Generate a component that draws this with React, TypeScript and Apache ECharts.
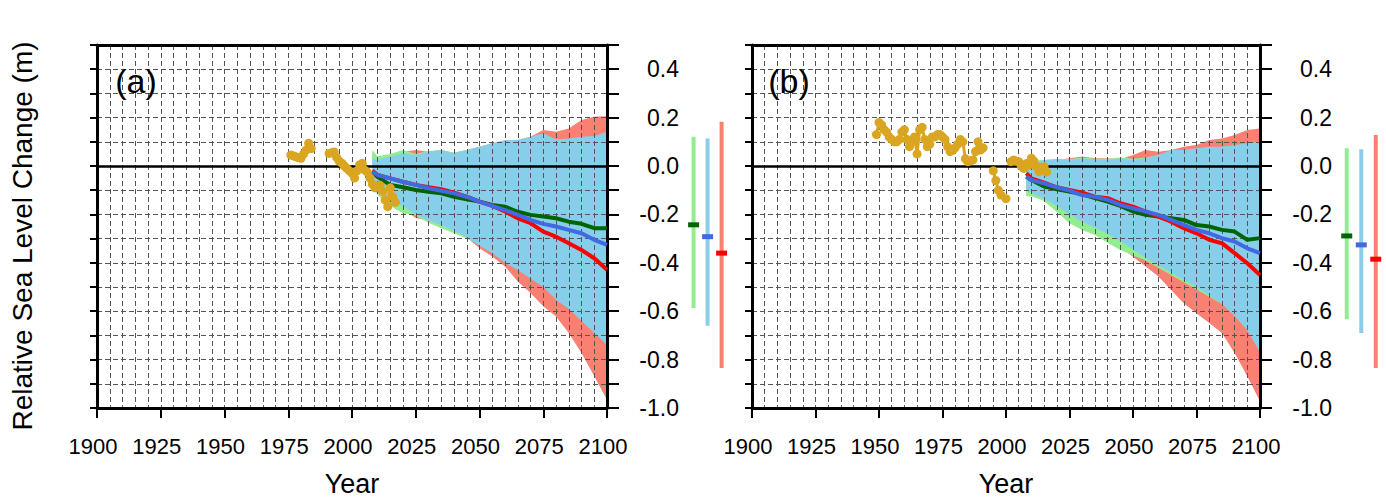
import React, { useEffect, useRef } from "react";
import * as echarts from "echarts";

// ---------- data ----------
const projYears = [2008, 2010, 2015, 2020, 2025, 2030, 2035, 2040, 2045, 2050, 2055, 2060, 2065, 2070, 2075, 2080, 2085, 2090, 2095, 2100];

// panel (a)
const greenLineA = [-0.023, -0.045, -0.078, -0.088, -0.099, -0.106, -0.113, -0.127, -0.138, -0.147, -0.161, -0.168, -0.189, -0.202, -0.209, -0.216, -0.23, -0.239, -0.257, -0.257];
const blueLineA = [-0.023, -0.037, -0.051, -0.065, -0.078, -0.092, -0.102, -0.113, -0.127, -0.147, -0.165, -0.182, -0.202, -0.223, -0.239, -0.25, -0.264, -0.278, -0.305, -0.326];
const redLineA = [-0.019, -0.037, -0.051, -0.065, -0.078, -0.088, -0.096, -0.11, -0.127, -0.147, -0.165, -0.188, -0.216, -0.236, -0.271, -0.292, -0.319, -0.347, -0.381, -0.429];
const salmonHiA = [0.052, 0.032, 0.039, 0.059, 0.066, 0.059, 0.066, 0.055, 0.066, 0.08, 0.094, 0.1, 0.107, 0.121, 0.149, 0.142, 0.155, 0.19, 0.204, 0.206];
const salmonLoA = [-0.07, -0.11, -0.15, -0.18, -0.215, -0.225, -0.245, -0.268, -0.295, -0.34, -0.374, -0.415, -0.477, -0.525, -0.58, -0.622, -0.69, -0.773, -0.869, -0.966];
const greenHiA = [0.066, 0.04, 0.05, 0.066, 0.05, 0.062, 0.066, 0.055, 0.066, 0.078, 0.09, 0.1, 0.1, 0.11, 0.12, 0.11, 0.11, 0.115, 0.12, 0.13];
const greenLoA = [-0.08, -0.12, -0.165, -0.195, -0.205, -0.235, -0.257, -0.278, -0.3, -0.325, -0.35, -0.38, -0.41, -0.44, -0.47, -0.5, -0.53, -0.56, -0.58, -0.6];
const blueHiA = [0.032, 0.025, 0.039, 0.052, 0.045, 0.059, 0.066, 0.052, 0.066, 0.08, 0.094, 0.107, 0.107, 0.121, 0.135, 0.11, 0.114, 0.121, 0.124, 0.142];
const blueLoA = [-0.065, -0.1, -0.14, -0.165, -0.2, -0.225, -0.245, -0.268, -0.295, -0.33, -0.36, -0.4, -0.43, -0.465, -0.5, -0.553, -0.59, -0.64, -0.69, -0.74];

// panel (b)
const greenLineB = [-0.044, -0.058, -0.085, -0.096, -0.106, -0.117, -0.133, -0.147, -0.165, -0.188, -0.202, -0.209, -0.216, -0.223, -0.244, -0.25, -0.264, -0.271, -0.305, -0.298];
const blueLineB = [-0.044, -0.058, -0.072, -0.088, -0.102, -0.12, -0.127, -0.14, -0.161, -0.175, -0.188, -0.202, -0.223, -0.243, -0.264, -0.278, -0.298, -0.312, -0.34, -0.36];
const redLineB = [-0.03, -0.051, -0.069, -0.088, -0.099, -0.11, -0.127, -0.133, -0.154, -0.168, -0.188, -0.209, -0.23, -0.257, -0.278, -0.305, -0.319, -0.36, -0.402, -0.45];
const salmonHiB = [0.018, 0.025, 0.018, 0.025, 0.032, 0.039, 0.032, 0.032, 0.028, 0.045, 0.066, 0.059, 0.066, 0.08, 0.087, 0.107, 0.114, 0.128, 0.149, 0.155];
const salmonLoB = [-0.11, -0.115, -0.13, -0.175, -0.22, -0.25, -0.275, -0.305, -0.335, -0.375, -0.415, -0.457, -0.512, -0.567, -0.608, -0.649, -0.69, -0.773, -0.869, -0.972];
const greenHiB = [0.015, 0.02, 0.025, 0.03, 0.028, 0.035, 0.03, 0.03, 0.035, 0.03, 0.035, 0.045, 0.06, 0.065, 0.07, 0.075, 0.078, 0.085, 0.09, 0.095];
const greenLoB = [-0.125, -0.125, -0.145, -0.19, -0.237, -0.264, -0.285, -0.317, -0.347, -0.37, -0.39, -0.42, -0.45, -0.48, -0.51, -0.54, -0.57, -0.6, -0.62, -0.64];
const blueHiB = [0.011, 0.018, 0.025, 0.028, 0.025, 0.032, 0.028, 0.025, 0.032, 0.025, 0.032, 0.045, 0.066, 0.066, 0.073, 0.08, 0.08, 0.087, 0.094, 0.1];
const blueLoB = [-0.1, -0.11, -0.135, -0.165, -0.2, -0.23, -0.255, -0.28, -0.31, -0.345, -0.38, -0.41, -0.44, -0.47, -0.5, -0.535, -0.57, -0.62, -0.68, -0.77];

// observations
const obsYearsA = [1976, 1977, 1978, 1979, 1980, 1981, 1982, 1983, 1984, 1985, 1986, 1987, 1988, 1989, 1990, 1991, 1992, 1993, 1994, 1995, 1996, 1997, 1998, 1999, 2000, 2001, 2002, 2003, 2004, 2005, 2006, 2007, 2008, 2009, 2010, 2011, 2012, 2013, 2014, 2015, 2016, 2017];
const obsValsA = [0.045, 0.042, 0.038, 0.035, 0.032, 0.05, 0.066, 0.094, 0.072, null, null, null, null, null, null, 0.052, 0.055, 0.058, 0.035, 0.02, 0.012, 0.0, -0.01, -0.02, -0.03, -0.05, -0.02, 0.005, 0.011, -0.017, -0.025, -0.05, -0.075, -0.09, -0.085, -0.08, -0.105, -0.14, -0.168, -0.09, -0.127, -0.15];
const obsYearsB = [1949, 1950, 1951, 1952, 1953, 1954, 1955, 1956, 1957, 1958, 1959, 1960, 1961, 1962, 1963, 1964, 1965, 1966, 1967, 1968, 1969, 1970, 1971, 1972, 1973, 1974, 1975, 1976, 1977, 1978, 1979, 1980, 1981, 1982, 1983, 1984, 1985, 1986, 1987, 1988, 1989, 1990, 1991, 1992, 1993, 1994, 1995, 1996, 1997, 1998, 1999, 2000, 2001, 2002, 2003, 2004, 2005, 2006, 2007, 2008, 2009, 2010, 2011, 2012, 2013, 2014, 2015, 2016];
const obsValsB = [0.13, 0.18, 0.17, 0.15, 0.14, 0.12, 0.11, 0.1, 0.1, 0.11, 0.14, 0.15, 0.11, 0.08, 0.1, 0.12, 0.05, 0.15, 0.16, 0.11, 0.08, 0.09, 0.12, 0.12, 0.13, 0.13, 0.12, 0.11, 0.08, 0.06, 0.065, 0.075, 0.09, 0.11, 0.1, 0.03, 0.018, 0.022, 0.025, 0.06, 0.1, 0.066, 0.075, null, null, null, -0.02, -0.06, -0.1, -0.12, null, -0.135, null, 0.018, 0.025, 0.02, 0.018, 0.0, -0.01, 0.01, 0.004, 0.032, 0.02, -0.003, -0.023, -0.005, -0.003, -0.025];

// 2100 range bars: green, blue, red
const barCats = ["g", "b", "r"];
const barLowA = [-0.587, -0.66, -0.835];
const barHighA = [0.121, 0.114, 0.183];
const barMidA = [-0.243, -0.292, -0.36];
const barLowB = [-0.633, -0.69, -0.835];
const barHighB = [0.073, 0.069, 0.128];
const barMidB = [-0.289, -0.326, -0.385];

const xTicksMin = 1900;
const xTicksMax = 2100;
const yMin = -1.0;
const yMax = 0.5;

// ---------- style ----------
const FONT = "'Liberation Sans', Arial, Helvetica, sans-serif";
const NARROW = "'Liberation Sans Narrow', 'Liberation Sans', Arial, sans-serif";
const C_SALMON = "#FA8072";
const C_LGREEN = "#90EE90";
const C_SKY = "#87CEEB";
const C_DGREEN = "#006400";
const C_BLUE = "#4169E1";
const C_RED = "#FF0000";
const C_OBS = "#DAA520";
const GRIDLINE = { color: "#555", width: 1, type: [5, 3] as any };

function band(xi: number, yi: number, lo: number[], hi: number[], color: string) {
  return {
    type: "custom",
    xAxisIndex: xi,
    yAxisIndex: yi,
    z: 2,
    silent: true,
    data: projYears.map((y, i) => [y, lo[i], hi[i]]),
    encode: { x: 0, y: [1, 2] },
    renderItem: (params: any, api: any) => {
      if (params.dataIndex !== 0) return null;
      const pts: number[][] = [];
      for (let i = 0; i < projYears.length; i++) pts.push(api.coord([projYears[i], hi[i]]));
      for (let i = projYears.length - 1; i >= 0; i--) pts.push(api.coord([projYears[i], lo[i]]));
      return { type: "polygon", shape: { points: pts }, style: { fill: color } };
    },
  };
}

function line(xi: number, yi: number, vals: number[], color: string) {
  return {
    type: "line",
    xAxisIndex: xi,
    yAxisIndex: yi,
    z: 4,
    silent: true,
    symbol: "none",
    data: projYears.map((y, i) => [y, vals[i]]),
    lineStyle: { color, width: 4 },
  };
}

function obs(xi: number, yi: number, years: number[], vals: (number | null)[]) {
  return {
    type: "line",
    xAxisIndex: xi,
    yAxisIndex: yi,
    z: 5,
    silent: true,
    symbol: "circle",
    symbolSize: 9,
    connectNulls: false,
    data: years.map((y, i) => [y, vals[i] === null ? "-" : vals[i]]),
    itemStyle: { color: C_OBS },
    lineStyle: { color: C_OBS, width: 3 },
  };
}

function rangeBars(xi: number, yi: number, lo: number[], hi: number[], mid: number[]) {
  const light = [C_LGREEN, C_SKY, C_SALMON];
  const dark = [C_DGREEN, C_BLUE, C_RED];
  return {
    type: "custom",
    xAxisIndex: xi,
    yAxisIndex: yi,
    silent: true,
    data: barCats.map((c, i) => [i, lo[i], hi[i], mid[i]]),
    renderItem: (params: any, api: any) => {
      const i = params.dataIndex;
      const top = api.coord([api.value(0), api.value(2)]);
      const bot = api.coord([api.value(0), api.value(1)]);
      const m = api.coord([api.value(0), api.value(3)]);
      return {
        type: "group",
        children: [
          { type: "rect", shape: { x: top[0] - 2, y: top[1], width: 4, height: bot[1] - top[1] }, style: { fill: light[i] } },
          { type: "rect", shape: { x: m[0] - 5.5, y: m[1] - 2.5, width: 11, height: 5 }, style: { fill: dark[i] } },
        ],
      };
    },
  };
}

const yLabelFmt = (v: number) => {
  const k = Math.round(v * 10);
  if (k % 2 !== 0 || v > 0.45) return "";
  return v.toFixed(1);
};

function panelAxes(gridIndex: number) {
  const xAxes = [
    {
      type: "value", gridIndex, position: "bottom", min: xTicksMin, max: xTicksMax, interval: 25, z: 3,
      axisLine: { show: true, onZero: false, lineStyle: { color: "#000", width: 3 } },
      axisTick: { show: true, length: 10, lineStyle: { color: "#000", width: 2 } },
      axisLabel: { fontSize: 22, fontFamily: NARROW, color: "#000", margin: 27, padding: [0, 8, 0, 0], formatter: (v: number) => String(Math.round(v)) },
      splitLine: { show: true, lineStyle: GRIDLINE },
      minorTick: { show: false, splitNumber: 5 },
      minorSplitLine: { show: true, lineStyle: GRIDLINE },
    },
    {
      type: "value", gridIndex, position: "top", min: xTicksMin, max: xTicksMax, interval: 25, z: 3,
      axisLine: { show: true, onZero: false, lineStyle: { color: "#000", width: 3 } },
      axisTick: { show: false }, axisLabel: { show: false }, splitLine: { show: false },
    },
    {
      type: "value", gridIndex, position: "bottom", min: xTicksMin, max: xTicksMax, interval: 25, z: 3,
      axisLine: { show: true, onZero: true, lineStyle: { color: "#000", width: 2.5 } },
      axisTick: { show: false }, axisLabel: { show: false }, splitLine: { show: false },
    },
  ];
  const yAxes = [
    {
      type: "value", gridIndex, position: "right", min: yMin, max: yMax, interval: 0.1, z: 3,
      axisLine: { show: true, lineStyle: { color: "#000", width: 3 } },
      axisTick: { show: true, length: 12, lineStyle: { color: "#000", width: 2 } },
      axisLabel: { fontSize: 23, fontFamily: FONT, color: "#000", align: "right", margin: 72, formatter: yLabelFmt },
      splitLine: { show: true, lineStyle: GRIDLINE },
    },
    {
      type: "value", gridIndex, position: "left", min: yMin, max: yMax, interval: 0.1, z: 3,
      axisLine: { show: true, lineStyle: { color: "#000", width: 3 } },
      axisTick: { show: true, length: 7, lineStyle: { color: "#000", width: 2 } },
      axisLabel: { show: false }, splitLine: { show: false },
    },
  ];
  return { xAxes, yAxes };
}

export default function App() {
  const ref = useRef<HTMLDivElement>(null);
  useEffect(() => {
    if (!ref.current) return;
    const chart = echarts.init(ref.current, undefined, { renderer: "svg" });
    const pa = panelAxes(0);
    const pb = panelAxes(1);
    const barX = (gridIndex: number) => ({
      type: "category", gridIndex, data: barCats, show: false, boundaryGap: true,
    });
    const barY = (gridIndex: number) => ({
      type: "value", gridIndex, min: yMin, max: yMax, show: false,
    });
    const option: any = {
      animation: false,
      textStyle: { fontFamily: FONT },
      grid: [
        { left: 97, top: 45, width: 510, height: 363 },
        { left: 752, top: 45, width: 508, height: 363 },
        { left: 686.6, top: 45, width: 42, height: 363 },
        { left: 1339.5, top: 45, width: 43.5, height: 363 },
      ],
      xAxis: [...pa.xAxes, ...pb.xAxes, barX(2), barX(3)],
      yAxis: [...pa.yAxes, ...pb.yAxes, barY(2), barY(3)],
      series: [
        band(0, 0, salmonLoA, salmonHiA, C_SALMON),
        band(0, 0, greenLoA, greenHiA, C_LGREEN),
        band(0, 0, blueLoA, blueHiA, C_SKY),
        line(0, 0, greenLineA, C_DGREEN),
        line(0, 0, redLineA, C_RED),
        line(0, 0, blueLineA, C_BLUE),
        obs(0, 0, obsYearsA, obsValsA),
        band(3, 2, salmonLoB, salmonHiB, C_SALMON),
        band(3, 2, greenLoB, greenHiB, C_LGREEN),
        band(3, 2, blueLoB, blueHiB, C_SKY),
        line(3, 2, greenLineB, C_DGREEN),
        line(3, 2, redLineB, C_RED),
        line(3, 2, blueLineB, C_BLUE),
        obs(3, 2, obsYearsB, obsValsB),
        rangeBars(6, 4, barLowA, barHighA, barMidA),
        rangeBars(7, 5, barLowB, barHighB, barMidB),
      ],
      graphic: [
        { type: "text", x: 136, y: 81, z: 10, style: { text: "(a)", fontSize: 34, fontFamily: FONT, fill: "#000", align: "center", verticalAlign: "middle" } },
        { type: "text", x: 789, y: 81, z: 10, style: { text: "(b)", fontSize: 34, fontFamily: FONT, fill: "#000", align: "center", verticalAlign: "middle" } },
        { type: "text", x: 352, y: 484, z: 10, style: { text: "Year", fontSize: 27, fontFamily: FONT, fill: "#000", align: "center", verticalAlign: "middle" } },
        { type: "text", x: 1006, y: 484, z: 10, style: { text: "Year", fontSize: 27, fontFamily: FONT, fill: "#000", align: "center", verticalAlign: "middle" } },
        { type: "text", x: 22, y: 236, rotation: Math.PI / 2, z: 10, style: { text: "Relative Sea Level Change (m)", fontSize: 28, fontFamily: FONT, fill: "#000", align: "center", verticalAlign: "middle" } },
      ],
    };
    chart.setOption(option);
    return () => chart.dispose();
  }, []);
  return <div ref={ref} style={{ position: "fixed", left: 0, top: 0, width: 1386, height: 499, background: "#fff" }} />;
}
